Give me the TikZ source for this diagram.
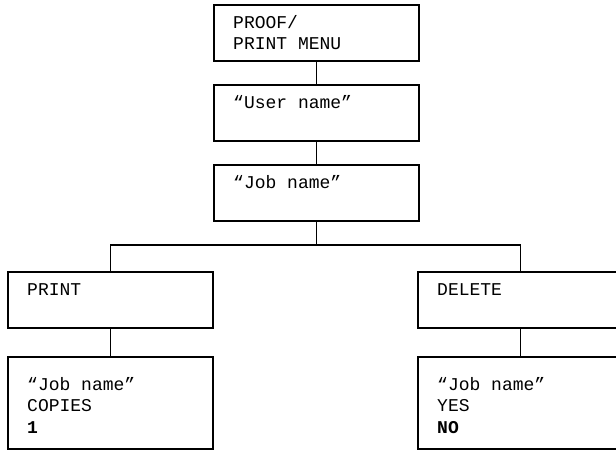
\documentclass[tikz,border=0pt]{standalone}
\usepackage{fontspec}
\setmonofont{Liberation Mono}
\begin{document}
\begin{tikzpicture}[x=1pt,y=1pt,
  box/.style={draw, line width=1.8pt, minimum width=205pt, minimum height=56pt, inner sep=0pt, anchor=north west},
  tallbox/.style={box, minimum height=92pt},
  lbl/.style={anchor=base west, inner sep=0pt, font=\ttfamily\fontsize{18}{21.5}\selectfont, align=left},
  conn/.style={line width=1.8pt}]
\useasboundingbox (0,0) rectangle (616,-450);
\node[box] (menu) at (213,-4) {};
\node[box] (user) at (213,-84) {};
\node[box] (job) at (213,-164) {};
\node[box] (print) at (7,-271) {};
\node[box] (del) at (417,-271) {};
\node[tallbox] (copies) at (7,-356) {};
\node[tallbox] (yesno) at (417,-356) {};
\node[lbl] (tmenu) at ([shift={(20,-45.5)}]menu.north west) {PROOF/\\PRINT MENU};
\node[lbl] (tuser) at ([shift={(20,-24)}]user.north west) {“User name”};
\node[lbl] (tjob) at ([shift={(20,-24)}]job.north west) {“Job name”};
\node[lbl] (tprint) at ([shift={(20,-24)}]print.north west) {PRINT};
\node[lbl] (tdel) at ([shift={(20,-24)}]del.north west) {DELETE};
\node[lbl] (tcopies) at ([shift={(20,-77)}]copies.north west) {“Job name”\\COPIES\\\textbf{1}};
\node[lbl] (tyesno) at ([shift={(20,-77)}]yesno.north west) {“Job name”\\YES\\\textbf{NO}};
\coordinate (bar) at (job.south |- 0,-245);
\draw[conn] (menu.south) -- (user.north);
\draw[conn] (user.south) -- (job.north);
\draw[conn] (job.south) -- (bar);
\draw[conn] (print.north) |- (bar) -| (del.north);
\draw[conn] (print.south) -- (copies.north);
\draw[conn] (del.south) -- (yesno.north);
\end{tikzpicture}
\end{document}
